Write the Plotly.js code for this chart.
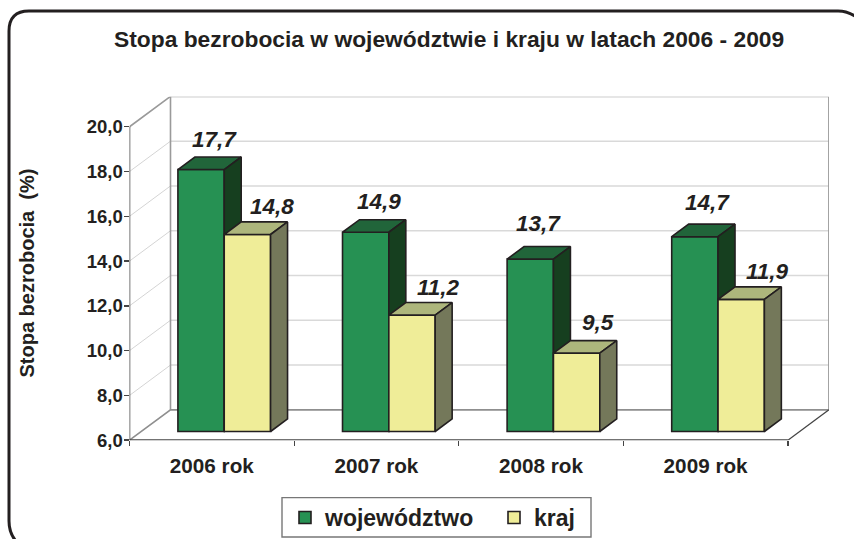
<!DOCTYPE html>
<html>
<head>
<meta charset="utf-8">
<script src="https://cdn.plot.ly/plotly-3.0.1.min.js"></script>
<style>html,body{margin:0;padding:0;background:#fff;overflow:hidden}#c{width:854px;height:539px}</style>
</head>
<body>
<div id="c"></div>
<script>
// ---- data ----
var categories = ['2006 rok', '2007 rok', '2008 rok', '2009 rok'];
var wojewodztwo = [17.7, 14.9, 13.7, 14.7];
var kraj = [14.8, 11.2, 9.5, 11.9];
var wojLabels = ['17,7', '14,9', '13,7', '14,7'];
var krajLabels = ['14,8', '11,2', '9,5', '11,9'];
var yTickVals = [6, 8, 10, 12, 14, 16, 18, 20];
var yTickText = ['6,0', '8,0', '10,0', '12,0', '14,0', '16,0', '18,0', '20,0'];
var titleText = 'Stopa bezrobocia w województwie i kraju w latach 2006 - 2009';
var yTitleText = 'Stopa bezrobocia  (%)';

// ---- geometry of the oblique projection ----
var W = 854, H = 539;
var PX = {left: 129.5, right: 829, bottom: 441, top: 97};
var pxPerCat = 164.6, pxPerVal = 22.43;
var DX = 41 / pxPerCat, DY = 30.4 / pxPerVal;   // full depth, in axis units
var yMin = 6, nCat = categories.length;
var xRange = [0, (PX.right - PX.left) / pxPerCat];
var yRange = [yMin, yMin + (PX.bottom - PX.top) / pxPerVal];
var dFront = 0.286, dBack = 0.70;
var barW = 0.2815, wojCenter = 0.3636, krajCenter = 0.6451;
var INK = '#231f20';

function line(xs, ys, color, width, ax) {
  return {type: 'scatter', mode: 'lines', x: xs, y: ys, line: {color: color, width: width},
    showlegend: false, hoverinfo: 'skip', cliponaxis: false, xaxis: ax[0], yaxis: ax[1]};
}
function poly(pts, fill, ax) {
  return {type: 'scatter', mode: 'lines', x: pts.map(function (p) { return p[0]; }), y: pts.map(function (p) { return p[1]; }),
    fill: 'toself', fillcolor: fill, line: {color: INK, width: 1.6}, showlegend: false, hoverinfo: 'skip',
    cliponaxis: false, xaxis: ax[0], yaxis: ax[1]};
}
var traces = [];
var AX0 = ['x', 'y'], AX1 = ['x2', 'y2'], AX2 = ['x3', 'y3'];

// walls and gridlines
yTickVals.forEach(function (v) {
  if (v === yMin || v === 20) return;
  traces.push(line([0, DX], [v, v + DY], '#d4d4d4', 1, AX0));
  traces.push(line([DX, nCat + DX], [v + DY, v + DY], '#d9d9d9', 1.5, AX0));
});
traces.push(line([0, DX, nCat + DX, nCat + DX], [20, 20 + DY, 20 + DY, yMin + DY], '#9a9a9a', 1.6, AX0));
traces.push(line([DX, DX], [20 + DY, yMin + DY], '#9a9a9a', 1.6, AX0));
traces.push(line([0, DX, nCat + DX], [yMin, yMin + DY, yMin + DY], '#8f8f8f', 1.6, AX0));
traces.push(line([nCat, nCat + DX], [yMin, yMin + DY], '#444444', 1.2, AX0));
traces.push(line([0, 0], [20, yMin], '#555555', 1.6, AX0));
traces.push(line([0, nCat], [yMin, yMin], '#444444', 1.8, AX0));

function series(name, vals, center, front, top, side, ax) {
  var base = yMin + dFront * DY;
  var xs = vals.map(function (v, i) { return i + center + dFront * DX; });
  traces.push({type: 'bar', name: name, x: xs, y: vals.map(function (v) { return v - yMin; }),
    base: vals.map(function () { return base; }), width: barW,
    marker: {color: front, line: {color: INK, width: 1.6}}, hoverinfo: 'skip',
    xaxis: ax[0], yaxis: ax[1]});
  vals.forEach(function (v, i) {
    var l = xs[i] - barW / 2, r = xs[i] + barW / 2, t = base + v - yMin;
    var dx = (dBack - dFront) * DX, dy = (dBack - dFront) * DY;
    traces.push(poly([[l, t], [l + dx, t + dy], [r + dx, t + dy], [r, t], [l, t]], top, ax));
    traces.push(poly([[r, t], [r + dx, t + dy], [r + dx, base + dy], [r, base], [r, t]], side, ax));
  });
}
series('województwo', wojewodztwo, wojCenter, '#269153', '#21653a', '#163f1f', AX1);
series('kraj', kraj, krajCenter, '#efed98', '#adb67c', '#74785a', AX2);

// value labels
var annotations = [];
function labels(vals, text, center, shiftX, shiftY) {
  vals.forEach(function (v, i) {
    annotations.push({xref: 'x', yref: 'y', x: i + center + dFront * DX, y: yMin + dFront * DY + v - yMin,
      text: text[i], showarrow: false, xshift: shiftX[i], yshift: shiftY[i],
      font: {family: 'Liberation Sans', size: 22.5, color: INK, weight: 'bold', style: 'italic'}});
  });
}
labels(wojewodztwo, wojLabels, wojCenter, [13, 13, 8, 13], [30, 31, 36, 34]);
labels(kraj, krajLabels, krajCenter, [25, 26, 21, 26], [28, 28, 31, 28]);

annotations.push({xref: 'paper', yref: 'paper', x: 448.5 / W, y: 1 - 39 / H, xanchor: 'center', yanchor: 'middle', text: titleText, showarrow: false,
  font: {family: 'Liberation Sans', size: 22.8, color: INK, weight: 'bold'}});
annotations.push({xref: 'paper', yref: 'paper', x: 27 / W, y: 1 - 274 / H, xanchor: 'center', yanchor: 'middle', text: yTitleText, showarrow: false, textangle: -90,
  font: {family: 'Liberation Sans', size: 20, color: INK, weight: 'bold'}});

function pxX(v) { return v / W; }
function pxY(v) { return 1 - v / H; }
var frame = 'M22,548 Q9,538 9,522 L9,31 Q9,11 29,11 L838,11 Q850,11 860,20';
var legendBox = 'M591,498.5 L282,498.5 L282,538 L591,538 Z';

var dom = {x: [PX.left / W, PX.right / W], y: [1 - PX.bottom / H, 1 - PX.top / H]};
var hiddenX = function (a) { return {domain: dom.x, range: xRange, overlaying: a, visible: false, fixedrange: true}; };
var hiddenY = function (x, a) { return {domain: dom.y, range: yRange, overlaying: a, anchor: x, visible: false, fixedrange: true}; };

var layout = {
  width: W, height: H, margin: {l: 0, r: 0, t: 0, b: 0}, paper_bgcolor: '#fff', plot_bgcolor: 'rgba(0,0,0,0)',
  barmode: 'overlay', font: {family: 'Liberation Sans', color: INK},
  xaxis: {domain: dom.x, range: xRange, tickmode: 'array',
    tickvals: categories.map(function (c, i) { return i + 0.5; }), ticktext: categories,
    ticks: '', showgrid: false, zeroline: false, showline: false, fixedrange: true, automargin: false,
    ticklabelstandoff: 11,
    tickfont: {family: 'Liberation Sans', size: 20.7, color: INK, weight: 'bold'},
    minor: {tickmode: 'array', tickvals: [0, 1, 2, 3, 4], ticks: 'outside', ticklen: 5, tickcolor: '#444444', tickwidth: 1.2, showgrid: false}},
  yaxis: {domain: dom.y, range: yRange, tickmode: 'array', tickvals: yTickVals, ticktext: yTickText,
    ticks: 'outside', ticklen: 5, tickcolor: '#444444', tickwidth: 1.4, showgrid: false, zeroline: false, showline: false,
    fixedrange: true, automargin: false, ticklabelstandoff: -3,
    tickfont: {family: 'Liberation Sans', size: 18.5, color: INK, weight: 'bold'}},
  xaxis2: hiddenX('x'), yaxis2: hiddenY('x2', 'y'),
  xaxis3: hiddenX('x'), yaxis3: hiddenY('x3', 'y'),
  showlegend: true,
  legend: {orientation: 'h', x: 285 / W, y: 1 - 518.5 / H, xanchor: 'left', yanchor: 'middle',
    font: {family: 'Liberation Sans', size: 23, color: INK, weight: 'bold'}, bgcolor: 'rgba(0,0,0,0)', borderwidth: 0,
    entrywidth: 164, entrywidthmode: 'pixels',
    itemclick: false, itemdoubleclick: false, traceorder: 'normal'},
  annotations: annotations,
  shapes: [
    {type: 'path', xref: 'paper', yref: 'paper', path: pathToPaper(frame), line: {color: INK, width: 3}, layer: 'above'},
    {type: 'path', xref: 'paper', yref: 'paper', path: pathToPaper(legendBox), line: {color: '#777777', width: 1.4}, layer: 'above'}
  ]
};
function pathToPaper(p) {
  return p.replace(/(-?[\d.]+),(-?[\d.]+)/g, function (m, a, b) { return pxX(+a) + ',' + pxY(+b); });
}
Plotly.newPlot('c', traces, layout, {displayModeBar: false, staticPlot: true});
</script>
</body>
</html>
